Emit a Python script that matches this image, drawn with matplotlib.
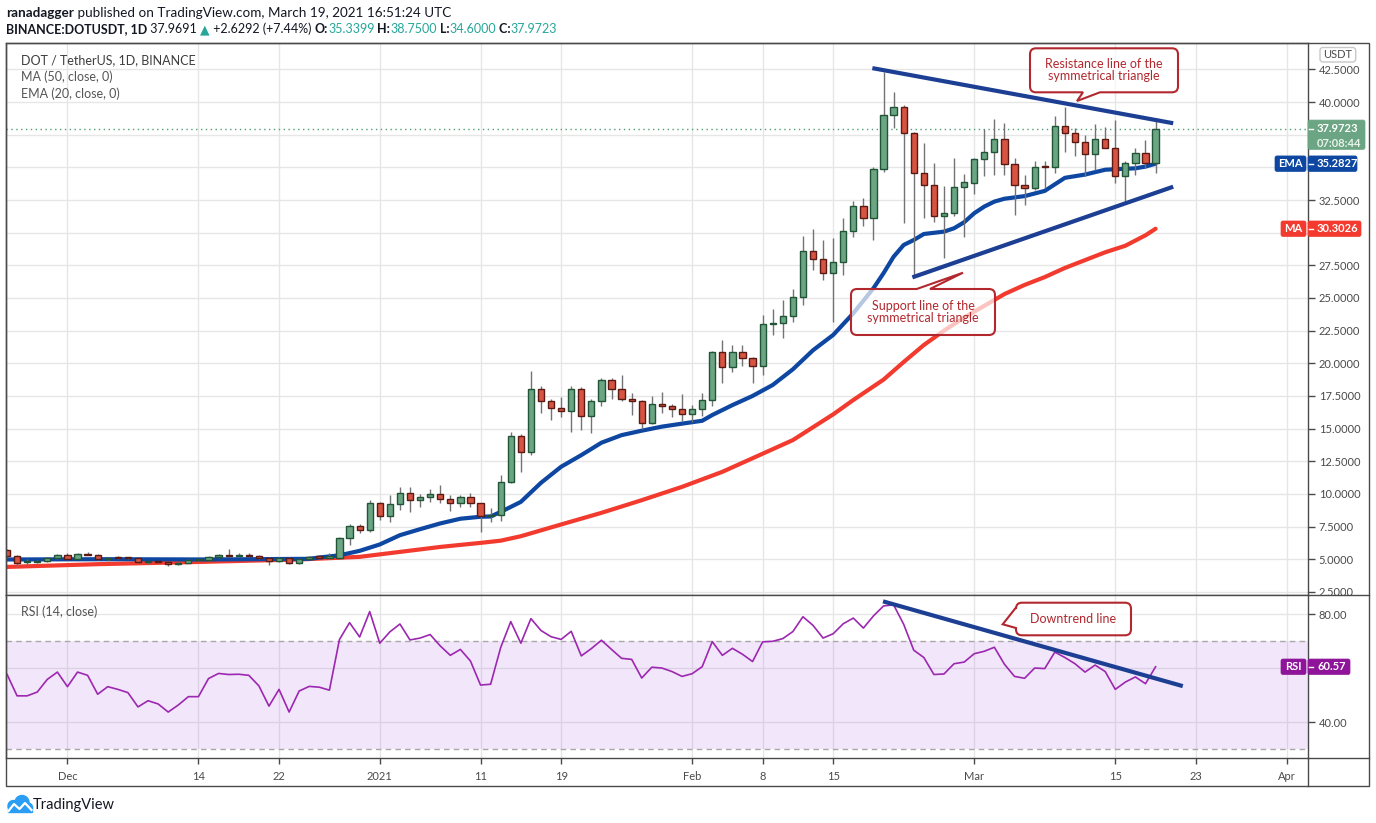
import matplotlib
matplotlib.use('Agg')
import matplotlib.pyplot as plt
import matplotlib.dates as mdates
from matplotlib.path import Path
from matplotlib.patches import PathPatch, Rectangle, FancyBboxPatch, Circle
from matplotlib.ticker import FuncFormatter
import numpy as np
import pandas as pd

W, H = 1376, 823
plt.rcParams['font.family'] = ['Lato', 'DejaVu Sans']

# ---- data (DOT/USDT daily, Binance) ----
dates = pd.date_range('2020-11-25', '2021-03-19', freq='D')

opens = [5.69, 5.26, 4.76, 4.82, 4.88, 5.12, 5.33, 5.04, 5.41, 5.33,
         5.00, 5.13, 5.12, 5.06, 4.75, 4.82, 4.77, 4.60, 4.74, 4.92,
         4.95, 5.18, 5.33, 5.28, 5.33, 5.26, 5.13, 4.85, 5.13, 4.70,
         5.05, 5.18, 5.13, 5.13, 6.60, 7.53, 7.22, 9.27, 8.30, 9.19,
         10.10, 9.50, 9.73, 10.03, 9.60, 9.27, 9.73, 9.27, 8.30, 8.37,
         10.93, 14.45, 13.18, 18.00, 17.10, 16.55, 16.37, 18.00, 16.00, 17.10,
         18.75, 18.00, 17.25, 17.10, 15.40, 16.88, 16.73, 16.52, 16.08, 16.47,
         17.16, 20.84, 19.72, 20.84, 20.38, 19.77, 22.99, 23.07, 23.60, 25.06,
         28.63, 27.97, 26.90, 27.79, 30.10, 32.05, 31.10, 34.86, 39.00, 39.60,
         37.62, 34.55, 33.63, 31.28, 31.49, 33.48, 33.80, 35.62, 36.16, 37.16,
         35.24, 33.63, 33.40, 35.06, 35.00, 38.18, 37.62, 36.93, 36.00, 37.16,
         36.47, 34.34, 35.36, 36.13, 35.34]
highs = [5.75, 5.30, 5.05, 4.95, 5.15, 5.40, 5.45, 5.45, 5.52, 5.42,
         5.16, 5.22, 5.18, 5.08, 4.90, 4.86, 4.80, 4.78, 4.98, 5.00,
         5.25, 5.40, 5.75, 5.45, 5.45, 5.35, 5.20, 5.20, 5.15, 5.10,
         5.25, 5.25, 5.50, 6.70, 7.68, 7.68, 9.52, 9.40, 9.90, 10.54,
         10.54, 10.03, 10.40, 10.67, 9.90, 9.90, 10.06, 9.30, 8.90, 11.45,
         14.74, 14.60, 19.40, 18.26, 17.30, 17.44, 18.26, 18.16, 17.30, 18.90,
         18.90, 19.10, 17.75, 17.20, 17.50, 17.78, 16.90, 17.65, 16.80, 17.70,
         20.95, 21.80, 21.40, 21.40, 20.50, 23.70, 24.14, 24.85, 25.70, 29.75,
         30.27, 29.45, 29.60, 31.10, 32.43, 32.66, 35.00, 42.34, 40.80, 39.79,
         37.70, 36.90, 35.30, 33.58, 35.70, 34.50, 35.75, 37.95, 38.71, 38.43,
         35.70, 34.40, 35.50, 35.50, 38.94, 39.60, 38.00, 37.50, 38.33, 38.10,
         38.64, 35.50, 36.50, 37.10, 38.75]
lows = [5.20, 4.43, 4.55, 4.72, 4.82, 5.05, 4.95, 5.00, 5.30, 4.95,
        4.90, 5.05, 5.00, 4.70, 4.60, 4.70, 4.50, 4.55, 4.70, 4.86,
        4.90, 5.10, 5.20, 5.20, 5.20, 5.05, 4.56, 4.75, 4.60, 4.62,
        5.00, 5.05, 5.05, 5.05, 6.07, 7.00, 7.10, 8.00, 7.86, 8.80,
        8.62, 9.00, 9.40, 9.30, 8.70, 9.00, 9.00, 7.09, 7.86, 7.93,
        10.85, 11.70, 13.00, 16.20, 15.66, 15.86, 14.74, 14.90, 14.68, 16.73,
        17.25, 17.10, 16.04, 14.97, 15.35, 16.17, 15.90, 15.60, 15.53, 16.00,
        16.75, 18.50, 19.36, 19.82, 18.47, 19.10, 22.17, 21.90, 23.20, 24.50,
        27.15, 26.40, 23.14, 26.76, 29.65, 30.54, 29.44, 34.67, 38.00, 30.77,
        26.58, 31.10, 30.84, 28.04, 31.30, 29.70, 33.00, 34.37, 34.42, 34.42,
        31.36, 32.10, 33.30, 33.40, 34.55, 36.20, 35.90, 34.37, 34.80, 36.50,
        33.83, 32.25, 34.42, 34.93, 34.60]
closes = [5.26, 4.74, 4.82, 4.86, 5.12, 5.33, 5.04, 5.41, 5.33, 5.00,
          5.13, 5.12, 5.06, 4.75, 4.82, 4.77, 4.60, 4.74, 4.92, 4.95,
          5.18, 5.33, 5.28, 5.33, 5.26, 5.13, 4.85, 5.13, 4.70, 5.05,
          5.18, 5.13, 5.13, 6.60, 7.53, 7.22, 9.27, 8.30, 9.19, 10.10,
          9.50, 9.73, 10.03, 9.60, 9.27, 9.73, 9.27, 8.30, 8.37, 10.93,
          14.45, 13.18, 18.00, 17.10, 16.55, 16.37, 18.00, 16.00, 17.10, 18.75,
          18.00, 17.25, 17.10, 15.40, 16.88, 16.73, 16.52, 16.08, 16.47, 17.16,
          20.84, 19.72, 20.84, 20.38, 19.77, 22.99, 23.07, 23.60, 25.06, 28.63,
          27.97, 26.90, 27.79, 30.10, 32.05, 31.10, 34.86, 39.00, 39.60, 37.62,
          34.55, 33.63, 31.28, 31.49, 33.48, 33.86, 35.62, 36.16, 37.16, 35.24,
          33.63, 33.40, 35.06, 35.00, 38.18, 37.62, 36.93, 36.00, 37.16, 36.47,
          34.34, 35.36, 36.13, 35.34, 37.9723]

ema_dates = ['2020-11-25', '2020-12-05', '2020-12-15', '2020-12-25', '2020-12-26',
             '2020-12-28', '2020-12-30', '2021-01-01', '2021-01-03', '2021-01-05',
             '2021-01-07', '2021-01-09', '2021-01-11', '2021-01-12', '2021-01-13',
             '2021-01-15', '2021-01-17', '2021-01-19', '2021-01-21', '2021-01-23',
             '2021-01-25', '2021-01-27', '2021-01-29', '2021-01-31', '2021-02-02',
             '2021-02-03', '2021-02-05', '2021-02-07', '2021-02-09', '2021-02-11',
             '2021-02-13', '2021-02-15', '2021-02-17', '2021-02-19', '2021-02-20',
             '2021-02-21', '2021-02-22', '2021-02-23', '2021-02-24', '2021-02-26',
             '2021-02-27', '2021-02-28', '2021-03-01', '2021-03-02', '2021-03-03',
             '2021-03-04', '2021-03-06', '2021-03-08', '2021-03-10', '2021-03-12',
             '2021-03-14', '2021-03-15', '2021-03-17', '2021-03-18', '2021-03-19']
ema_vals = [4.98, 5.00, 4.98, 5.03, 5.13, 5.30, 5.64, 6.13, 6.84, 7.30,
            7.74, 8.10, 8.25, 8.27, 8.62, 9.39, 10.85, 12.08, 12.97, 13.92,
            14.50, 14.84, 15.15, 15.38, 15.60, 16.04, 16.80, 17.50, 18.34, 19.54,
            21.00, 22.17, 23.83, 25.75, 26.90, 28.16, 29.06, 29.44, 29.90, 30.08,
            30.34, 30.80, 31.49, 32.00, 32.38, 32.60, 32.80, 33.20, 34.20, 34.45,
            34.82, 34.86, 34.93, 35.06, 35.28]

ma_dates = ['2020-11-25', '2020-12-04', '2020-12-14', '2020-12-24', '2020-12-27',
            '2020-12-30', '2021-01-03', '2021-01-07', '2021-01-11', '2021-01-13',
            '2021-01-15', '2021-01-19', '2021-01-23', '2021-01-27', '2021-01-31',
            '2021-02-04', '2021-02-11', '2021-02-15', '2021-02-17', '2021-02-20',
            '2021-02-22', '2021-02-24', '2021-02-26', '2021-02-28', '2021-03-02',
            '2021-03-04', '2021-03-06', '2021-03-08', '2021-03-10', '2021-03-12',
            '2021-03-14', '2021-03-16', '2021-03-18', '2021-03-19']
ma_vals = [4.41, 4.62, 4.79, 4.98, 5.08, 5.18, 5.56, 5.94, 6.25, 6.42,
           6.76, 7.66, 8.55, 9.52, 10.54, 11.69, 14.12, 16.09, 17.19, 18.75,
           20.10, 21.40, 22.50, 23.50, 24.40, 25.30, 26.00, 26.60, 27.30, 27.90,
           28.50, 29.00, 29.80, 30.30]

rsi = [57.8, 49.8, 49.8, 51.2, 55.9, 58.6, 53.2, 58.6, 57.4, 50.4,
       53.2, 52.2, 51.0, 45.7, 48.0, 46.8, 43.8, 46.4, 49.5, 49.5,
       56.2, 58.1, 57.7, 57.8, 57.4, 53.5, 46.0, 52.2, 43.8, 51.6,
       53.3, 53.0, 51.9, 70.7, 76.9, 71.6, 81.0, 69.3, 73.5, 76.4,
       70.5, 71.2, 72.5, 68.3, 64.8, 67.0, 62.7, 53.8, 54.1, 67.7,
       77.3, 69.3, 78.4, 74.0, 71.7, 70.7, 73.7, 64.6, 67.3, 70.4,
       67.0, 63.7, 63.3, 56.4, 60.4, 60.1, 58.8, 57.0, 58.0, 60.6,
       69.9, 64.8, 67.4, 65.2, 62.5, 69.8, 70.0, 71.0, 73.6, 79.1,
       75.9, 71.2, 72.8, 76.5, 78.6, 74.9, 79.4, 83.1, 83.5, 76.3,
       66.7, 64.0, 57.7, 57.9, 61.7, 62.3, 65.4, 66.3, 67.8, 61.5,
       57.0, 56.3, 60.1, 59.9, 66.0, 64.0, 61.7, 58.6, 61.2, 58.8,
       52.2, 54.9, 56.8, 54.3, 60.57]

last_price = 37.9723
ema_last = 35.2827
ma_last = 30.3026
rsi_last = 60.57

tick_dates = ['2020-12-01', '2020-12-14', '2020-12-22', '2021-01-01', '2021-01-11',
              '2021-01-19', '2021-02-01', '2021-02-08', '2021-02-15', '2021-03-01',
              '2021-03-15', '2021-03-23', '2021-04-01']
tick_labels = ['Dec', '14', '22', '2021', '11', '19', 'Feb', '8', '15', 'Mar', '15', '23', 'Apr']

# price levels whose axis label sits under a value tag
hidden_price_ticks = [37.5, 35.0, 30.0]
hidden_rsi_ticks = [60.0]

# hand-drawn trend lines (date, value)
resistance = [('2021-02-18 21:20', 42.60), ('2021-03-20 18:00', 38.38)]
support = [('2021-02-22 20:40', 26.58), ('2021-03-20 18:00', 33.52)]
rsi_trend = [('2021-02-19 22:50', 84.8), ('2021-03-21 16:50', 53.4)]

# ---- colours ----
UP, UP_EDGE = '#6ba583', '#225437'
DN, DN_EDGE = '#d75442', '#5b1a13'
WICK = '#737375'
EMA_C, MA_C = '#0d47a1', '#f23b2e'
TREND = '#1c3f94'
CALL = '#b2282e'
AX_C = '#4a4a4a'
GRID = '#e6e6e6'

x = mdates.date2num(dates)
o, h, l, c = map(np.array, (opens, highs, lows, closes))

fig = plt.figure(figsize=(W / 100, H / 100), dpi=100)
ax = fig.add_axes([6.3 / W, 1 - 595 / H, 1301.4 / W, 551.7 / H])
ax2 = fig.add_axes([6.3 / W, 1 - 758.3 / H, 1301.4 / W, 163.3 / H], sharex=ax)

x0 = x[0]
ax.set_xlim(x0 - 0.07, x0 + 129.1)
ax.set_ylim(2.26, 44.50)
ax2.set_ylim(26.67, 87.15)

tx = mdates.date2num(pd.to_datetime(tick_dates))
for a in (ax, ax2):
    a.set_axisbelow(True)
    a.grid(True, color=GRID, lw=1)
    for s in a.spines.values():
        s.set_color(AX_C)
        s.set_linewidth(1)
    a.yaxis.tick_right()


def fmt(digits, hidden):
    def f(v, pos):
        if any(abs(v - hv) < 1e-6 for hv in hidden):
            return ''
        return '%.*f' % (digits, v)
    return FuncFormatter(f)


# ---- price panel ----
ax.set_yticks(np.arange(2.5, 44, 2.5))
ax.yaxis.set_major_formatter(fmt(4, hidden_price_ticks))
ax.tick_params(axis='y', direction='out', length=5, width=1, color=AX_C,
               labelsize=8, labelcolor=AX_C, pad=3)
ax.set_xticks(tx)
ax.tick_params(axis='x', length=0, labelbottom=False)

ax.plot(mdates.date2num(pd.to_datetime(ma_dates)), ma_vals, color=MA_C, lw=3, zorder=1.5,
        solid_capstyle='round')
ax.plot(mdates.date2num(pd.to_datetime(ema_dates)), ema_vals, color=EMA_C, lw=3, zorder=1.6,
        solid_capstyle='round')

ax.vlines(x, l, h, color=WICK, lw=1, zorder=2)
bottom = np.minimum(o, c)
height = np.maximum(np.abs(c - o), 0.08)
up = c >= o
ax.bar(x[up], height[up], bottom=bottom[up], width=0.62, color=UP, edgecolor=UP_EDGE,
       lw=1, zorder=3)
ax.bar(x[~up], height[~up], bottom=bottom[~up], width=0.62, color=DN, edgecolor=DN_EDGE,
       lw=1, zorder=3)

ax.axhline(last_price, color='#4f9e74', lw=1, ls=(0, (1, 2.5)), zorder=1.4)

for pts, a in ((resistance, ax), (support, ax), (rsi_trend, ax2)):
    px = mdates.date2num(pd.to_datetime([p[0] for p in pts]))
    a.plot(px, [p[1] for p in pts], color=TREND, lw=3, zorder=4, solid_capstyle='butt')

LEG = '#555555'
ax.text(15 / 1301.4, 1 - (60 - 43.3) / 551.7, 'DOT / TetherUS, 1D, BINANCE', transform=ax.transAxes,
        fontsize=9, color='#3d3d3d', va='center')
ax.text(15 / 1301.4, 1 - (77 - 43.3) / 551.7, 'MA (50, close, 0)', transform=ax.transAxes,
        fontsize=9, color=LEG, va='center')
ax.text(15 / 1301.4, 1 - (94 - 43.3) / 551.7, 'EMA (20, close, 0)', transform=ax.transAxes,
        fontsize=9, color=LEG, va='center')

# ---- RSI panel ----
ax2.fill_between([x0 - 1, x0 + 140], 30, 70, color='#8e24d8', alpha=0.11, lw=0, zorder=1)
ax2.axhline(70, color='#a8a8a8', lw=1, ls=(0, (4, 3)), zorder=1.2)
ax2.axhline(30, color='#a8a8a8', lw=1, ls=(0, (4, 3)), zorder=1.2)
ax2.plot(x, rsi, color='#9c27b0', lw=1.2, zorder=3)
ax2.set_yticks([40, 60, 80])
ax2.yaxis.set_major_formatter(fmt(2, hidden_rsi_ticks))
ax2.tick_params(axis='y', direction='out', length=5, width=1, color=AX_C,
                labelsize=8, labelcolor=AX_C, pad=3)
ax2.set_xticks(tx)
ax2.set_xticklabels(tick_labels)
ax2.tick_params(axis='x', direction='out', length=4, width=1, color=AX_C,
                labelsize=8, labelcolor=AX_C, pad=5)
ax2.text(15 / 1301.4, 1 - (612 - 595) / 163.3, 'RSI (14, close)', transform=ax2.transAxes,
         fontsize=9, color=LEG, va='center')

# ---- overlay in pixel coordinates ----
ov = fig.add_axes([0, 0, 1, 1])
ov.set_xlim(0, W)
ov.set_ylim(H, 0)
ov.axis('off')

ov.add_patch(Rectangle((6.3, 43.3), 1362.7, 742.7, fill=False, edgecolor=AX_C, lw=1))
ov.plot([1307.7, 1307.7], [758.3, 786], color=AX_C, lw=1)
ov.plot([1307.7, 1369], [595, 595], color=AX_C, lw=1)
ov.plot([1307.7, 1369], [758.3, 758.3], color=AX_C, lw=1)


def ypix(a, v):
    return H - a.transData.transform((x0, v))[1]


def tag(yc, text, color, x_left, x_right, tag_text=None, tag_left=None, h=15.5):
    ov.add_patch(FancyBboxPatch((x_left, yc - h / 2), x_right - x_left, h,
                                boxstyle='round,pad=0,rounding_size=2', fc=color, ec=color, lw=0.5))
    ov.plot([x_left + 1, x_left + 5], [yc, yc], color='white', lw=1)
    ov.text(x_left + 9, yc, text, color='white', fontsize=8, fontweight='bold', va='center')
    if tag_text:
        ov.add_patch(FancyBboxPatch((tag_left, yc - h / 2), 1306 - tag_left, h,
                                    boxstyle='round,pad=0,rounding_size=2', fc=color, ec=color, lw=0.5))
        ov.text((tag_left + 1306) / 2, yc, tag_text, color='white', fontsize=8,
                fontweight='bold', va='center', ha='center')


yp = ypix(ax, last_price)
ov.add_patch(FancyBboxPatch((1308, yp - 8.5), 57, 29.3, boxstyle='round,pad=0,rounding_size=2',
                            fc=UP, ec=UP, lw=0.5))
ov.plot([1309, 1313], [yp, yp], color='white', lw=1)
ov.text(1317, yp - 0.5, '%.4f' % last_price, color='white', fontsize=8, fontweight='bold',
        va='center')
ov.text(1317, yp + 14.5, '07:08:44', color='#e8f3ec', fontsize=8, fontweight='bold', va='center')
tag(ypix(ax, ema_last), '%.4f' % ema_last, EMA_C, 1308, 1357, 'EMA', 1275)
tag(ypix(ax, ma_last), '%.4f' % ma_last, MA_C, 1308, 1361, 'MA', 1281)
tag(ypix(ax2, rsi_last), '%.2f' % rsi_last, '#8e1599', 1308, 1350, 'RSI', 1281)

ov.add_patch(FancyBboxPatch((1320, 47.5), 35.7, 14.5, boxstyle='round,pad=0,rounding_size=3',
                            fc='white', ec='#c8c8c8', lw=1))
ov.text(1337.8, 54.8, 'USDT', color=AX_C, fontsize=8, ha='center', va='center')


def callout(bx0, by0, bx1, by1, side, b0, b1, tip, r=6):
    verts, codes = [], []

    def ln(p):
        verts.append(p)
        codes.append(Path.LINETO)

    def cv(cp, p):
        verts.extend([cp, p])
        codes.extend([Path.CURVE3, Path.CURVE3])

    verts.append((bx0 + r, by0))
    codes.append(Path.MOVETO)
    if side == 'top':
        ln((b0, by0)); ln(tip); ln((b1, by0))
    ln((bx1 - r, by0)); cv((bx1, by0), (bx1, by0 + r))
    ln((bx1, by1 - r)); cv((bx1, by1), (bx1 - r, by1))
    if side == 'bottom':
        ln((b1, by1)); ln(tip); ln((b0, by1))
    ln((bx0 + r, by1)); cv((bx0, by1), (bx0, by1 - r))
    if side == 'left':
        ln((bx0, b1)); ln(tip); ln((bx0, b0))
    ln((bx0, by0 + r)); cv((bx0, by0), (bx0 + r, by0))
    verts.append((bx0 + r, by0))
    codes.append(Path.CLOSEPOLY)
    ov.add_patch(PathPatch(Path(verts, codes), facecolor=(1, 1, 1, 0.7), edgecolor=CALL, lw=1.5))


callout(1030, 48.3, 1178, 92.3, 'bottom', 1083, 1100, (1077, 101))
ov.text(1104, 70, 'Resistance line of the\nsymmetrical triangle', color=CALL, fontsize=9,
        ha='center', va='center', linespacing=1.05)
callout(851, 289, 995, 335, 'top', 916.7, 930, (963, 272.7))
ov.text(923, 312, 'Support line of the\nsymmetrical triangle', color=CALL, fontsize=9,
        ha='center', va='center', linespacing=1.05)
callout(1016, 602.7, 1131, 635.3, 'left', 607.5, 628, (1002.7, 624.3))
ov.text(1073.5, 619, 'Downtrend line', color=CALL, fontsize=9, ha='center', va='center')

# ---- header ----
renderer = fig.canvas.get_renderer()


def runs(y, pieces, size):
    xc = 6
    for s, weight, col in pieces:
        t = ov.text(xc, y, s, fontsize=size, fontweight=weight, color=col, va='center',
                    family=['Lato', 'DejaVu Sans'])
        xc = ov.transData.inverted().transform(
            (t.get_window_extent(renderer).x1, 0))[0]


DARK, GREEN = '#131722', '#26a69a'
runs(13, [('ranadagger', 'bold', DARK),
          (' published on TradingView.com, March 19, 2021 16:51:24 UTC', 'normal', DARK)], 9.7)
runs(29, [('BINANCE:DOTUSDT, 1D', 'bold', DARK), (' 37.9691 ', 'normal', DARK),
          ('\u25b2', 'normal', GREEN), (' +2.6292 (+7.44%) ', 'normal', DARK),
          ('O:', 'bold', DARK), ('35.3399', 'normal', GREEN), (' H:', 'bold', DARK),
          ('38.7500', 'normal', GREEN), (' L:', 'bold', DARK), ('34.6000', 'normal', GREEN),
          (' C:', 'bold', DARK), ('37.9723', 'normal', GREEN)], 9)

# ---- footer logo ----
LOGO = '#2a9df4'
ov.add_patch(Circle((13.5, 806), 5.5, color=LOGO))
ov.add_patch(Circle((22, 802.5), 7, color=LOGO))
ov.add_patch(Circle((28, 807.5), 4.5, color=LOGO))
ov.add_patch(Rectangle((8, 806), 24, 6, color=LOGO))
ov.plot([8.5, 14, 19.5, 25, 31.5], [811, 804, 809, 803, 810], color='white', lw=1.6)
ov.text(33, 805, 'TradingView', fontsize=10.5, color=DARK, va='center')

fig.savefig('out.png', dpi=100)
